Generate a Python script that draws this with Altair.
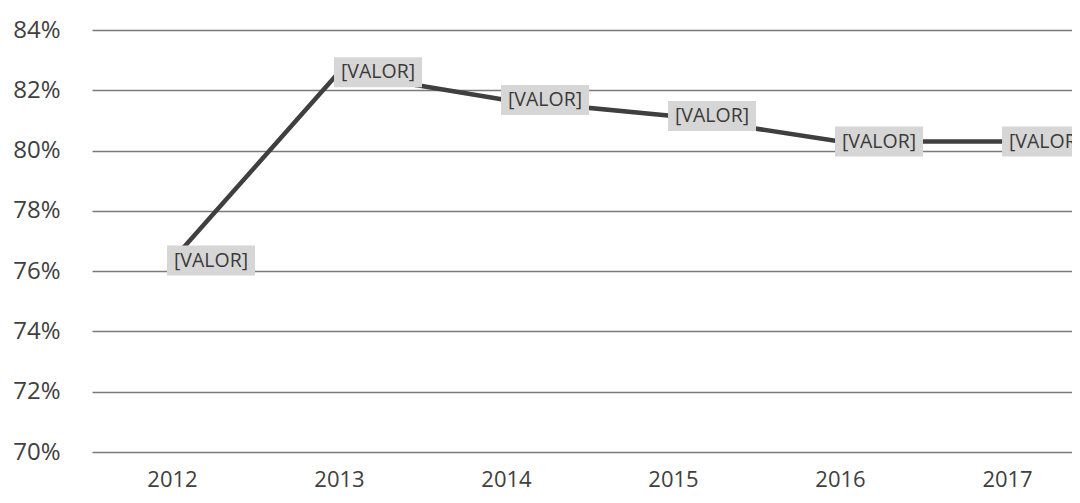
import altair as alt
import pandas as pd

years = [2012, 2013, 2014, 2015, 2016, 2017]
values = [0.7635, 0.8260, 0.8168, 0.8115, 0.8030, 0.8030]
labels = ["[VALOR]"] * 6
y_ticks = [0.70, 0.72, 0.74, 0.76, 0.78, 0.80, 0.82, 0.84]

df = pd.DataFrame({"year": years, "value": values, "label": labels})

FONT = "Open Sans"

x = alt.X("year:Q",
          scale=alt.Scale(domain=[2011.521, 2017.389], nice=False, zero=False),
          axis=alt.Axis(values=years, format="d", title=None, grid=False, ticks=False,
                        domain=False, labelFontSize=22, labelColor="#404040",
                        labelFont=FONT, labelPadding=17))
y = alt.Y("value:Q",
          scale=alt.Scale(domain=[0.70, 0.84], nice=False, zero=False),
          axis=alt.Axis(values=y_ticks, format=".0%", title=None, grid=True,
                        gridColor="#7a7a7a", gridWidth=1.6, ticks=False, domain=False,
                        labelFontSize=24, labelColor="#404040", labelFont=FONT,
                        labelPadding=32))

base = alt.Chart(df)

line = base.mark_line(color="#3f3f3f", strokeWidth=4.5).encode(x=x, y=y)

boxes = base.mark_rect(width=88, height=30, xOffset=39, color="#d6d6d6", clip=True).encode(
    x="year:Q", y="value:Q")

text = base.mark_text(dx=39, dy=0, fontSize=19.5, font=FONT, color="#3a3a3a",
                      align="center", baseline="middle", clip=True).encode(
    x="year:Q", y="value:Q", text="label:N")

chart = (line + boxes + text).properties(
    width=980, height=422,
    autosize=alt.AutoSizeParams(type="none"),
    padding={"left": 84, "top": 22, "right": 0, "bottom": 43},
).configure_view(stroke=None)

chart.save("out.html", embed_options={"renderer": "svg", "actions": False})
